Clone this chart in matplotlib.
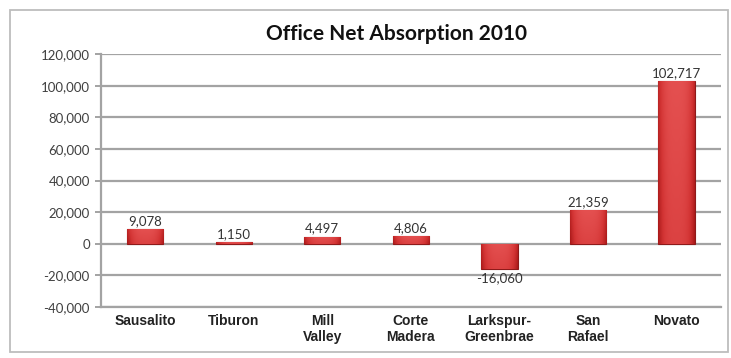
import numpy as np
import matplotlib.pyplot as plt
from matplotlib.patches import Rectangle
from matplotlib.colors import LinearSegmentedColormap
from matplotlib.ticker import FuncFormatter, MultipleLocator

# ----- dados -----
cidades = ["Sausalito", "Tiburon", "Mill\nValley", "Corte\nMadera",
           "Larkspur-\nGreenbrae", "San\nRafael", "Novato"]
absorcao = [9078, 1150, 4497, 4806, -16060, 21359, 102717]
titulo = "Office Net Absorption 2010"

fig = plt.figure(figsize=(7.31, 3.58), dpi=100)
ax = fig.add_axes([0.138, 0.1425, 0.848, 0.7065])

# moldura externa do gráfico (estilo Excel)
fig.patches.append(Rectangle((10 / 731, 6 / 358), 718 / 731, 342 / 358,
                             transform=fig.transFigure, fill=False,
                             edgecolor="#bdbdbd", linewidth=1.3))

x = range(len(cidades))
barras = ax.bar(x, absorcao, width=0.41, color="#cf2e2e", edgecolor="#8e1a1a",
                linewidth=0.8, zorder=3)

# gradiente leve dentro das barras (brilho no centro, bordas mais escuras)
cmap = LinearSegmentedColormap.from_list("verm", ["#a81818", "#d33434", "#e45050"])
gx = np.linspace(-1, 1, 60)
gy = np.linspace(0, 1, 60)
gx, gy = np.meshgrid(gx, gy)
grad = (1 - np.abs(gx) ** 3) * 0.75 + gy * 0.25
for b in barras:
    x0, w = b.get_x(), b.get_width()
    y0, h = b.get_y(), b.get_height()
    ylo, yhi = min(y0, y0 + h), max(y0, y0 + h)
    im = ax.imshow(grad, extent=(x0, x0 + w, ylo, yhi), origin="lower",
                   cmap=cmap, aspect="auto", zorder=3.5, interpolation="bilinear")
    im.set_clip_path(b)

for xi, v in zip(x, absorcao):
    if v >= 0:
        ax.text(xi, v + 1300, f"{v:,}", ha="center", va="bottom",
                fontsize=9.5, color="#333333", family="Lato")
    else:
        ax.text(xi, v - 1800, f"{v:,}", ha="center", va="top",
                fontsize=9.5, color="#333333", family="Lato")

ax.set_xlim(-0.5, len(cidades) - 0.5)
ax.set_ylim(-40000, 120000)
ax.yaxis.set_major_locator(MultipleLocator(20000))
ax.yaxis.set_major_formatter(FuncFormatter(lambda v, p: f"{int(v):,}"))
ax.grid(axis="y", color="#a3a3a3", linewidth=1.6, zorder=0)
ax.set_axisbelow(True)

for s in ["top", "right"]:
    ax.spines[s].set_visible(False)
ax.spines["left"].set_color("#a3a3a3")
ax.spines["left"].set_linewidth(1.6)
ax.spines["bottom"].set_color("#a3a3a3")
ax.spines["bottom"].set_linewidth(1.6)

ax.tick_params(axis="y", length=4, width=1.4, color="#a3a3a3",
               labelsize=9.5, labelcolor="#404040", pad=4)
for lbl in ax.get_yticklabels():
    lbl.set_family("Lato")
ax.set_xticks(list(x))
ax.set_xticklabels(cidades, fontsize=10, fontweight="bold",
                   family="Liberation Sans", color="#222222",
                   linespacing=1.15)
ax.tick_params(axis="x", length=0, pad=5)

fig.text(396 / 731, 0.905, titulo, ha="center", va="center",
         fontsize=15, fontweight="bold", family="Lato", color="#111111")

fig.savefig("out.png", dpi=100)
